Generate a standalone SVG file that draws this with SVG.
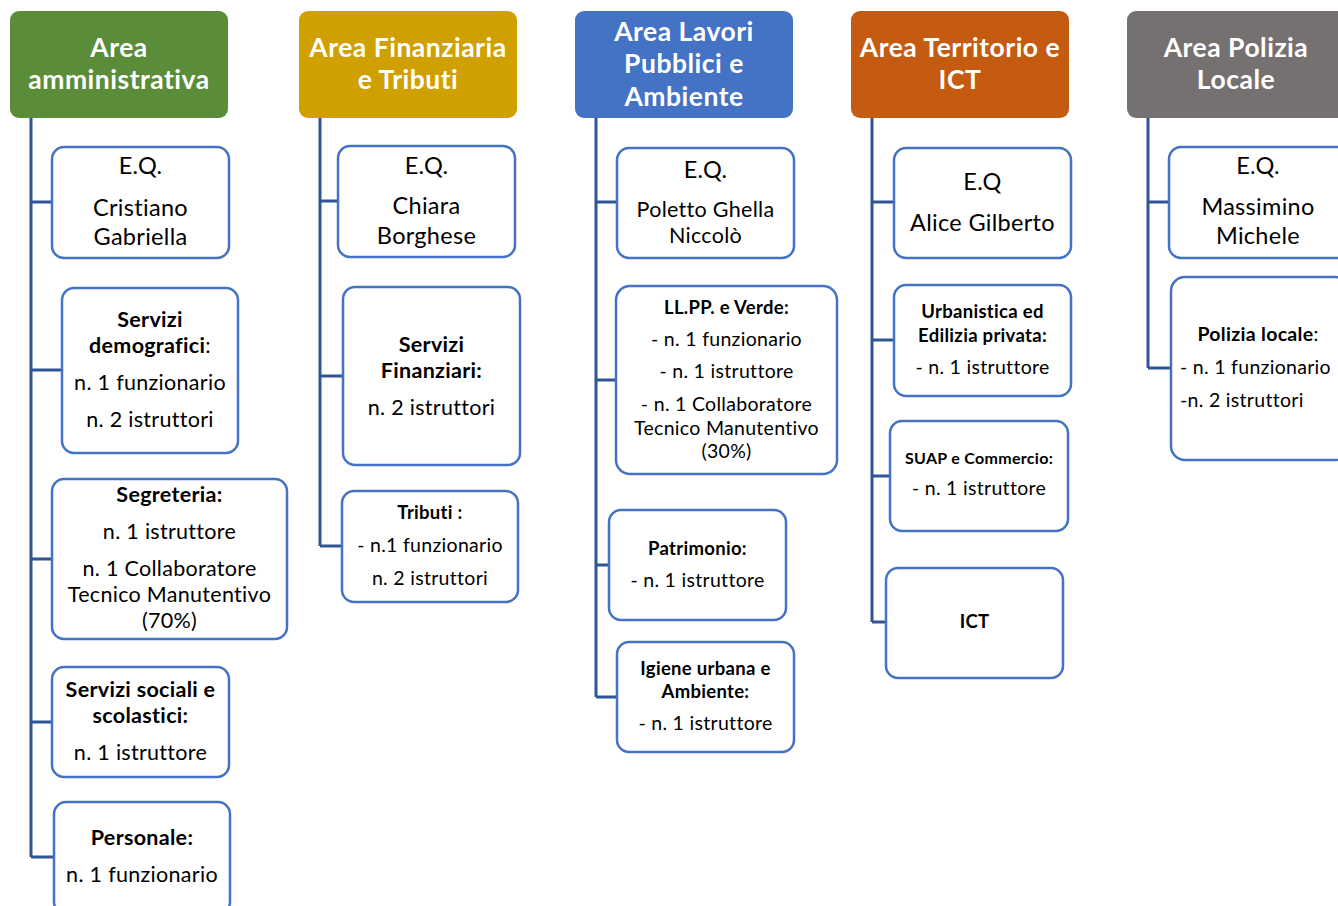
<svg xmlns="http://www.w3.org/2000/svg" width="1338" height="906" viewBox="0 0 1338 906">
<style>
.hdr rect{stroke:none}
.hdr text{fill:#fff;font-family:Lato,"Liberation Sans",sans-serif;font-weight:bold;font-size:26.5px;letter-spacing:0.5px;text-anchor:middle}
.box rect{fill:#fff;stroke:#4472c4;stroke-width:2.5}
.box text{fill:#000;font-family:Lato,"Liberation Sans",sans-serif;text-anchor:middle;letter-spacing:0.3px}
.box text.st{text-anchor:start}
.eq{font-size:23.5px}
.t20{font-size:21.5px}
.t18{font-size:19.5px}
.b17{font-size:18.5px;font-weight:bold}
.b20{font-size:21.5px;font-weight:bold}
.b15{font-size:16px;font-weight:bold}
.conn path{fill:none;stroke:#2f5597;stroke-width:3}
</style>
<rect width="1338" height="906" fill="#fff"/>
<g class="conn">
<path d="M31 118V857M31 202H52M31 370H62M31 559H52M31 722H52M31 857H54"/>
<path d="M320 118V546M320 201H338M320 376H343M320 546H342"/>
<path d="M596 118V697M596 202H617M596 380H616M596 565H609M596 697H617"/>
<path d="M872 118V622M872 202H894M872 340H894M872 476H890M872 622H886"/>
<path d="M1148 118V368M1148 202H1169M1148 368H1171"/>
</g>
<g id="h1" class="hdr"><rect x="10" y="11" width="218" height="107" rx="9" fill="#5b8c3a"/><text x="119" y="57">Area</text><text x="119" y="89">amministrativa</text></g>
<g id="h2" class="hdr"><rect x="299" y="11" width="218" height="107" rx="9" fill="#d0a000"/><text x="408" y="57">Area Finanziaria</text><text x="408" y="89">e Tributi</text></g>
<g id="h3" class="hdr"><rect x="575" y="11" width="218" height="107" rx="9" fill="#4472c4"/><text x="684" y="41">Area Lavori</text><text x="684" y="73">Pubblici e</text><text x="684" y="106">Ambiente</text></g>
<g id="h4" class="hdr"><rect x="851" y="11" width="218" height="107" rx="9" fill="#c55a11"/><text x="960" y="57">Area Territorio e</text><text x="960" y="89">ICT</text></g>
<g id="h5" class="hdr"><rect x="1127" y="11" width="222" height="107" rx="9" fill="#767171"/><text x="1236" y="57">Area Polizia</text><text x="1236" y="89">Locale</text></g>

<g id="n1a" class="box"><rect x="52" y="147" width="177" height="111" rx="12"/><text x="140.5" y="174" class="eq">E.Q.</text><text x="140.5" y="216" class="eq">Cristiano</text><text x="140.5" y="245" class="eq">Gabriella</text></g>
<g id="n1b" class="box"><rect x="62" y="288" width="176" height="165" rx="12"/><text x="150" y="327" class="b20">Servizi</text><text x="150" y="353" class="t20"><tspan font-weight="bold">demografici</tspan>:</text><text x="150" y="390" class="t20">n. 1 funzionario</text><text x="150" y="427" class="t20">n. 2 istruttori</text></g>
<g id="n1c" class="box"><rect x="52" y="479" width="235" height="160" rx="12"/><text x="169.5" y="502" class="b20">Segreteria:</text><text x="169.5" y="539" class="t20">n. 1 istruttore</text><text x="169.5" y="576" class="t20">n. 1 Collaboratore</text><text x="169.5" y="602" class="t20">Tecnico Manutentivo</text><text x="169.5" y="628" class="t20">(70%)</text></g>
<g id="n1d" class="box"><rect x="52" y="667" width="177" height="110" rx="12"/><text x="140.5" y="697" class="b20">Servizi sociali e</text><text x="140.5" y="723" class="b20">scolastici:</text><text x="140.5" y="760" class="t20">n. 1 istruttore</text></g>
<g id="n1e" class="box"><rect x="54" y="802" width="176" height="112" rx="12"/><text x="142" y="845" class="b20">Personale:</text><text x="142" y="882" class="t20">n. 1 funzionario</text></g>

<g id="n2a" class="box"><rect x="338" y="146" width="177" height="111" rx="12"/><text x="426.5" y="174" class="eq">E.Q.</text><text x="426.5" y="214" class="eq">Chiara</text><text x="426.5" y="244" class="eq">Borghese</text></g>
<g id="n2b" class="box"><rect x="343" y="287" width="177" height="178" rx="12"/><text x="431.5" y="352" class="b20">Servizi</text><text x="431.5" y="378" class="b20">Finanziari:</text><text x="431.5" y="415" class="t20">n. 2 istruttori</text></g>
<g id="n2c" class="box"><rect x="342" y="491" width="176" height="111" rx="12"/><text x="430" y="519" class="b17">Tributi :</text><text x="430" y="552" class="t18">- n.1 funzionario</text><text x="430" y="585" class="t18">n. 2 istruttori</text></g>

<g id="n3a" class="box"><rect x="617" y="148" width="177" height="110" rx="12"/><text x="705.5" y="178" class="eq">E.Q.</text><text x="705.5" y="217" class="t20">Poletto Ghella</text><text x="705.5" y="243" class="t20">Niccolò</text></g>
<g id="n3b" class="box"><rect x="616" y="286" width="221" height="188" rx="14"/><text x="726.5" y="314" class="b17">LL.PP. e Verde:</text><text x="726.5" y="346" class="t18">- n. 1 funzionario</text><text x="726.5" y="378" class="t18">- n. 1 istruttore</text><text x="726.5" y="411" class="t18">- n. 1 Collaboratore</text><text x="726.5" y="435" class="t18">Tecnico Manutentivo</text><text x="726.5" y="458" class="t18">(30%)</text></g>
<g id="n3c" class="box"><rect x="609" y="510" width="177" height="110" rx="12"/><text x="697.5" y="555" class="b17">Patrimonio:</text><text x="697.5" y="587" class="t18">- n. 1 istruttore</text></g>
<g id="n3d" class="box"><rect x="617" y="642" width="177" height="110" rx="12"/><text x="705.5" y="675" class="b17">Igiene urbana e</text><text x="705.5" y="698" class="b17">Ambiente:</text><text x="705.5" y="730" class="t18">- n. 1 istruttore</text></g>

<g id="n4a" class="box"><rect x="894" y="148" width="177" height="110" rx="12"/><text x="982.5" y="190" class="eq">E.Q</text><text x="982.5" y="231" class="eq">Alice Gilberto</text></g>
<g id="n4b" class="box"><rect x="894" y="285" width="177" height="111" rx="12"/><text x="982.5" y="318" class="b17">Urbanistica ed</text><text x="982.5" y="342" class="b17">Edilizia privata:</text><text x="982.5" y="374" class="t18">- n. 1 istruttore</text></g>
<g id="n4c" class="box"><rect x="890" y="421" width="178" height="110" rx="12"/><text x="979" y="464" class="b15">SUAP e Commercio:</text><text x="979" y="495" class="t18">- n. 1 istruttore</text></g>
<g id="n4d" class="box"><rect x="886" y="568" width="177" height="110" rx="12"/><text x="974.5" y="628" class="b17">ICT</text></g>

<g id="n5a" class="box"><rect x="1169" y="147" width="180" height="111" rx="12"/><text x="1258" y="174" class="eq">E.Q.</text><text x="1258" y="215" class="eq">Massimino</text><text x="1258" y="244" class="eq">Michele</text></g>
<g id="n5b" class="box"><rect x="1171" y="277" width="178" height="183" rx="14"/><text x="1258" y="341" class="t18"><tspan font-weight="bold">Polizia locale</tspan>:</text><text x="1180" y="374" class="t18 st">- n. 1 funzionario</text><text x="1180" y="407" class="t18 st">-n. 2 istruttori</text></g>
</svg>
